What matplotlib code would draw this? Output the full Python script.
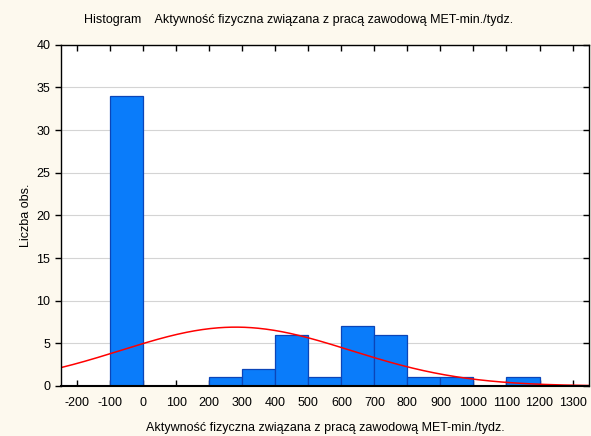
import numpy as np
import matplotlib.pyplot as plt

plt.rcParams['font.family'] = ['Liberation Sans', 'DejaVu Sans']
plt.rcParams['axes.unicode_minus'] = False

# histogram bins (left edges, width 100) and counts
bin_left = [-100, 0, 100, 200, 300, 400, 500, 600, 700, 800, 900, 1000, 1100, 1200]
counts = [34, 0, 0, 1, 2, 6, 1, 7, 6, 1, 1, 0, 1, 0]
xticks = [-200, -100, 0, 100, 200, 300, 400, 500, 600, 700, 800, 900, 1000, 1100, 1200, 1300]
yticks = [0, 5, 10, 15, 20, 25, 30, 35, 40]

# fitted normal curve parameters
mu = 280
sigma = 347
n_obs = sum(counts)
bin_w = 100

title = "Histogram    Aktywność fizyczna związana z pracą zawodową MET-min./tydz."
xlab = "Aktywność fizyczna związana z pracą zawodową MET-min./tydz."
ylab = "Liczba obs."

fig = plt.figure(figsize=(5.91, 4.36), dpi=100, facecolor='#FDF9EE')
ax = fig.add_axes([0.1027, 0.1147, 0.894, 0.7828])
ax.set_facecolor('white')

ax.bar(bin_left, counts, width=bin_w, align='edge', color='#0A7CFA',
       edgecolor='#0B45B8', linewidth=0.9, zorder=2)

xs = np.linspace(-250, 1350, 400)
ys = n_obs * bin_w / (sigma * np.sqrt(2 * np.pi)) * np.exp(-(xs - mu) ** 2 / (2 * sigma ** 2))
ax.plot(xs, ys, color='#FF0000', linewidth=1.1, zorder=3)

ax.set_xlim(-250, 1350)
ax.set_ylim(0, 40)
ax.set_xticks(xticks)
ax.set_yticks(yticks)
ax.yaxis.grid(True, color='#D4D4D4', linewidth=0.8, zorder=0)
ax.set_axisbelow(True)

ax.tick_params(axis='x', direction='in', top=True, length=4, labelsize=9, pad=8, width=1)
ax.tick_params(axis='y', direction='out', length=4, labelsize=9, width=1)
ax.tick_params(axis='y', which='both', right=True)
for t in ax.yaxis.get_ticklines()[1::2]:
    t.set_marker(0)
for s in ax.spines.values():
    s.set_linewidth(1)
    s.set_zorder(5)
ax.spines['bottom'].set_linewidth(1.5)

ax.set_xlabel(xlab, fontsize=9, labelpad=9)
ax.set_ylabel(ylab, fontsize=9, labelpad=3)
fig.text(0.505, 0.953, title, ha='center', va='center', fontsize=9)

fig.savefig('out.png', dpi=100, facecolor=fig.get_facecolor())
